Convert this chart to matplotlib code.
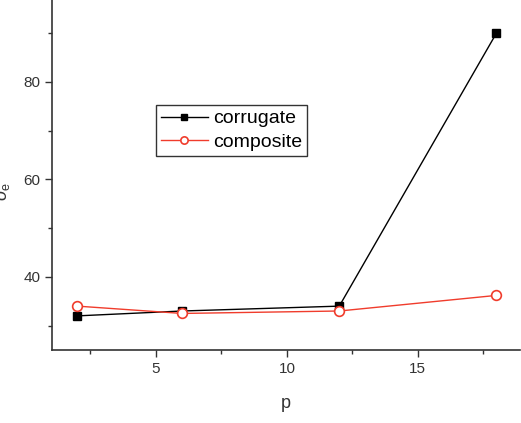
import numpy as np
import matplotlib
matplotlib.use("Agg")
import matplotlib.pyplot as plt
from matplotlib.ticker import MultipleLocator

p = [2, 6, 12, 18]
corrugate = [32, 33, 34, 90]
composite = [34, 32.5, 33, 36.2]

plt.rcParams.update({
    "font.family": ["Liberation Sans", "DejaVu Sans"],
    "font.size": 11,
    "mathtext.fontset": "custom",
    "mathtext.rm": "Liberation Sans",
    "mathtext.it": "Liberation Sans:italic",
})

fig = plt.figure(figsize=(5.21, 4.23), dpi=100)
ax = fig.add_axes([52 / 521, (423 - 350) / 423, (520 - 52) / 521, 350 / 423])

ax.plot(p, corrugate, color="black", lw=1.0, marker="s", ms=6,
        mfc="black", mec="black", label="corrugate")
ax.plot(p, composite, color="#f03c2c", lw=1.0, marker="o", ms=7,
        mfc="white", mec="#f03c2c", mew=1.2, label="composite")

ax.set_xlim(1.03, 18.9)
ax.set_ylim(25, 96.8)
ax.xaxis.set_major_locator(MultipleLocator(5))
ax.xaxis.set_minor_locator(MultipleLocator(2.5))
ax.yaxis.set_major_locator(MultipleLocator(20))
ax.yaxis.set_minor_locator(MultipleLocator(10))
ax.tick_params(which="major", direction="out", length=5, width=1, colors="#333333")
ax.tick_params(which="minor", direction="out", length=3, width=1, colors="#333333")
ax.tick_params(labelsize=11, labelcolor="#333333")
for s in ("top", "right"):
    ax.spines[s].set_visible(False)
for s in ("left", "bottom"):
    ax.spines[s].set_linewidth(1.2)
    ax.spines[s].set_color("#333333")

ax.set_xlabel("p", fontsize=13, color="#333333", labelpad=14)
fig.text(4 / 521, 1 - 191 / 423, r"$\sigma_\mathrm{e}$", rotation=90,
         ha="center", va="center", fontsize=13, color="#333333")

leg = ax.legend(loc="upper left", bbox_to_anchor=(104 / 468, 1 - 105 / 350),
                frameon=True, fancybox=False, edgecolor="black", fontsize=14,
                handlelength=2.4, borderpad=0.25, labelspacing=0.3,
                handletextpad=0.3, borderaxespad=0, markerscale=0.75)
leg.get_frame().set_linewidth(1.0)

fig.savefig("out.png", dpi=100, facecolor="white")
